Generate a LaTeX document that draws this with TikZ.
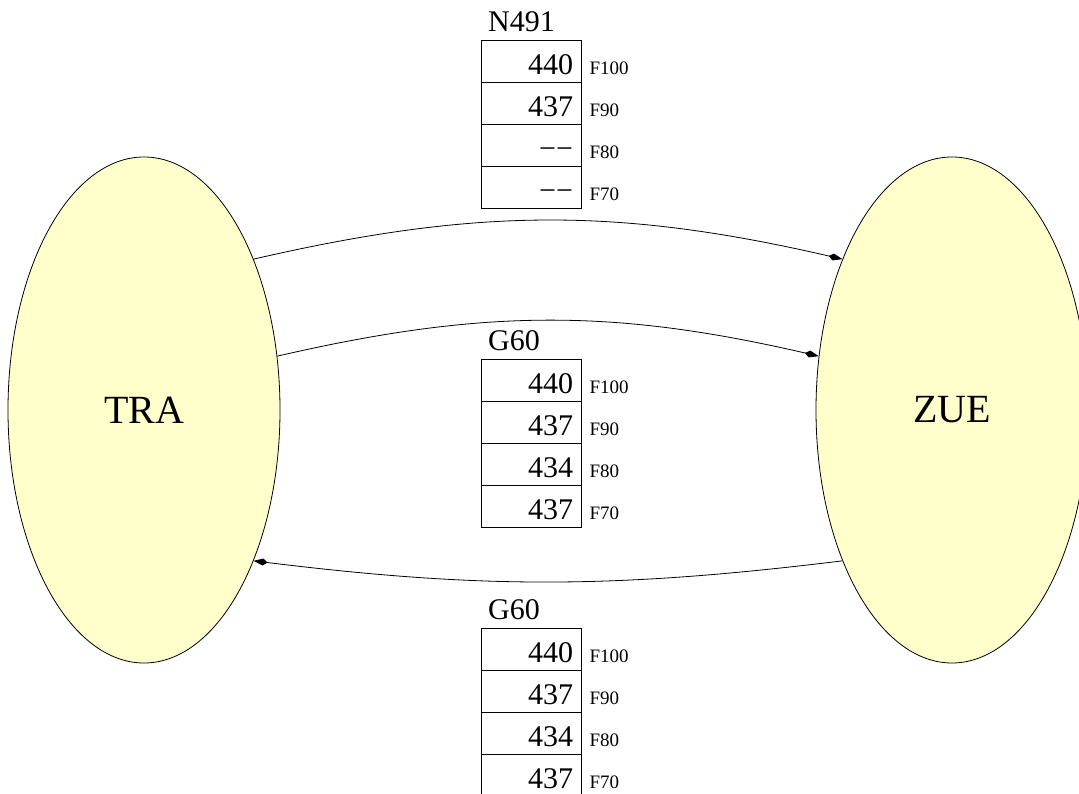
\documentclass[tikz,border=0pt]{standalone}
\usepackage{fontspec}
\setmainfont{Liberation Serif}
\usetikzlibrary{arrows.meta,
                shapes.geometric,
                positioning}
\definecolor{stationfill}{RGB}{255,255,204}

\begin{document}
\begin{tikzpicture}[x=1pt,y=1pt,
   station/.style={ellipse,draw,fill=stationfill,line width=.8pt,minimum width=272pt,minimum height=506pt,inner sep=0pt,font=\fontsize{40}{40}\selectfont},
   cell/.style={draw,line width=.6pt,minimum height=42pt,text width=84pt,inner xsep=8pt,inner ysep=0pt,align=right,text height=28pt,text depth=0pt,font=\fontsize{30}{30}\selectfont},
   tabtitle/.style={inner sep=0pt,font=\fontsize{30}{30}\selectfont},
   flabel/.style={inner sep=0pt,font=\fontsize{19}{19}\selectfont},
   link/.style={line width=.8pt,-{Kite[length=14pt,width=7pt,inset=4.5pt]}}]
 \useasboundingbox (0,0) rectangle (1079,794);
 \node[station] (TRA) at (144,384) {TRA};
 \node[station] (ZUE) at (952,384) {ZUE};

 % trains: name, top edge, values F100 .. F70
 \foreach \tid/\ytop/\ttl/\vals in {N491/754/N491/{440,437,−−,−−},
                                    G60a/435/G60/{440,437,434,437},
                                    G60b/166/G60/{440,437,434,437}}{
   \node[tabtitle,anchor=base west] (\tid) at (488,\ytop+8) {\ttl};
   \foreach \v [count=\i] in \vals {
     \node[cell] (\tid-\i) at (531,\ytop-21-42*\i+42) {\v};
     \node[flabel,right=8pt of \tid-\i.base east,anchor=base west] (\tid-\i-f) {F\number\numexpr110-10*\i\relax};
   }
 }

 \draw[link] (TRA.54) to[bend left=13] (ZUE.126);
 \draw[link] (TRA.22) to[bend left=13] (ZUE.158);
 \draw[link] (ZUE.234) to[bend left=7] (TRA.306);
\end{tikzpicture}
\end{document}
